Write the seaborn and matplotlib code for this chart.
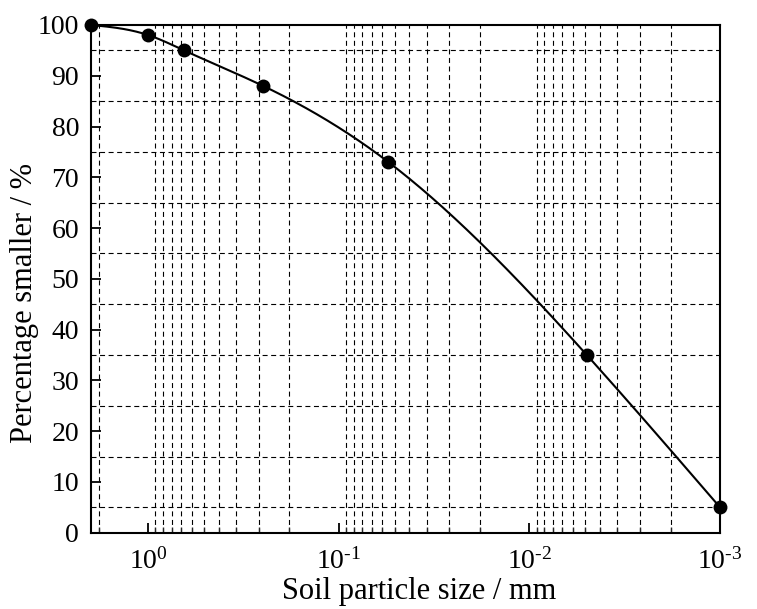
import numpy as np
import matplotlib
matplotlib.use("Agg")
import matplotlib.pyplot as plt
import matplotlib.ticker as mticker
import seaborn as sns
import pandas as pd

# ---- data ----
particle_size_mm = [2.0, 1.0, 0.65, 0.25, 0.055, 0.005, 0.001]
percent_smaller = [100, 98, 95, 88, 73, 35, 5]
x_major_ticks = [1, 0.1, 0.01, 0.001]
x_major_labels = [r"$\mathregular{10^{0}}$", r"$\mathregular{10^{\text{-}1}}$",
                  r"$\mathregular{10^{\text{-}2}}$", r"$\mathregular{10^{\text{-}3}}$"]
y_ticks = [0, 10, 20, 30, 40, 50, 60, 70, 80, 90, 100]
y_grid = [5, 15, 25, 35, 45, 55, 65, 75, 85, 95]
x_label = "Soil particle size / mm"
y_label = "Percentage smaller / %"

sns.set_theme(style="ticks")
plt.rcParams["font.family"] = ["Liberation Serif", "DejaVu Serif"]
plt.rcParams["mathtext.fontset"] = "custom"
plt.rcParams["mathtext.rm"] = "Liberation Serif"
plt.rcParams["mathtext.it"] = "Liberation Serif:italic"

df = pd.DataFrame({"size": particle_size_mm, "pct": percent_smaller})

# smooth curve: natural cubic spline in log10(size)
t = -np.log10(np.array(particle_size_mm))
y = np.array(percent_smaller, dtype=float)
n = len(t)
h = np.diff(t)
A = np.zeros((n, n)); b = np.zeros(n)
A[0, 0] = 1; A[-1, -1] = 1
for i in range(1, n - 1):
    A[i, i - 1] = h[i - 1]
    A[i, i] = 2 * (h[i - 1] + h[i])
    A[i, i + 1] = h[i]
    b[i] = 6 * ((y[i + 1] - y[i]) / h[i] - (y[i] - y[i - 1]) / h[i - 1])
M = np.linalg.solve(A, b)
tt = np.linspace(t[0], t[-1], 600)
idx = np.clip(np.searchsorted(t, tt) - 1, 0, n - 2)
t0, t1 = t[idx], t[idx + 1]
hh = t1 - t0
yy = (M[idx] * (t1 - tt) ** 3 / (6 * hh) + M[idx + 1] * (tt - t0) ** 3 / (6 * hh)
      + (y[idx] / hh - M[idx] * hh / 6) * (t1 - tt)
      + (y[idx + 1] / hh - M[idx + 1] * hh / 6) * (tt - t0))
curve = pd.DataFrame({"size": 10 ** (-tt), "pct": yy})

fig = plt.figure(figsize=(7.57, 6.09), dpi=100)
ax = fig.add_axes([0.1202, 0.1253, 0.8309, 0.8337])

ax.set_xscale("log")
ax.plot(curve["size"], curve["pct"], color="black", lw=1.5, zorder=3)
sns.scatterplot(data=df, x="size", y="pct", ax=ax, color="black", s=100,
                edgecolor="black", linewidth=0, zorder=4, clip_on=False)

ax.set_xlim(2, 0.001)
ax.set_ylim(0, 100)

# minor x positions: 10 equally spaced values inside each decade
minor_x = []
for base in [0.001, 0.01, 0.1, 1.0]:
    for k in range(1, 11):
        v = base * (1 + k * 9 / 11)
        if 0.001 < v < 2:
            minor_x.append(v)

ax.xaxis.set_major_locator(mticker.FixedLocator(x_major_ticks))
ax.xaxis.set_major_formatter(mticker.FixedFormatter(x_major_labels))
ax.xaxis.set_minor_locator(mticker.FixedLocator(minor_x))
ax.xaxis.set_minor_formatter(mticker.NullFormatter())
ax.yaxis.set_major_locator(mticker.FixedLocator(y_ticks))
ax.yaxis.set_minor_locator(mticker.FixedLocator(y_grid))

ax.grid(False)
ax.grid(which="minor", color="black", lw=0.8, ls=(0, (4.5, 3.2)))

ax.tick_params(axis="both", which="major", direction="in", length=7, width=1.3,
               labelsize=20, colors="black")
ax.tick_params(axis="y", which="major", pad=8.6)
ax.tick_params(axis="x", which="major", pad=11)
ax.tick_params(axis="x", which="minor", direction="in", length=4, width=1.0)
ax.tick_params(axis="y", which="minor", length=0)
ax.tick_params(top=False, right=False, which="both")

for sp in ax.spines.values():
    sp.set_linewidth(1.5)
    sp.set_color("black")

ax.set_xlabel(x_label, fontsize=22, color="black")
ax.set_ylabel(y_label, fontsize=22, color="black")
ax.xaxis.set_label_coords(0.521, -0.087)
ax.yaxis.set_label_coords(-0.082, 0.453)

fig.savefig("out.png", dpi=100, facecolor="white")
